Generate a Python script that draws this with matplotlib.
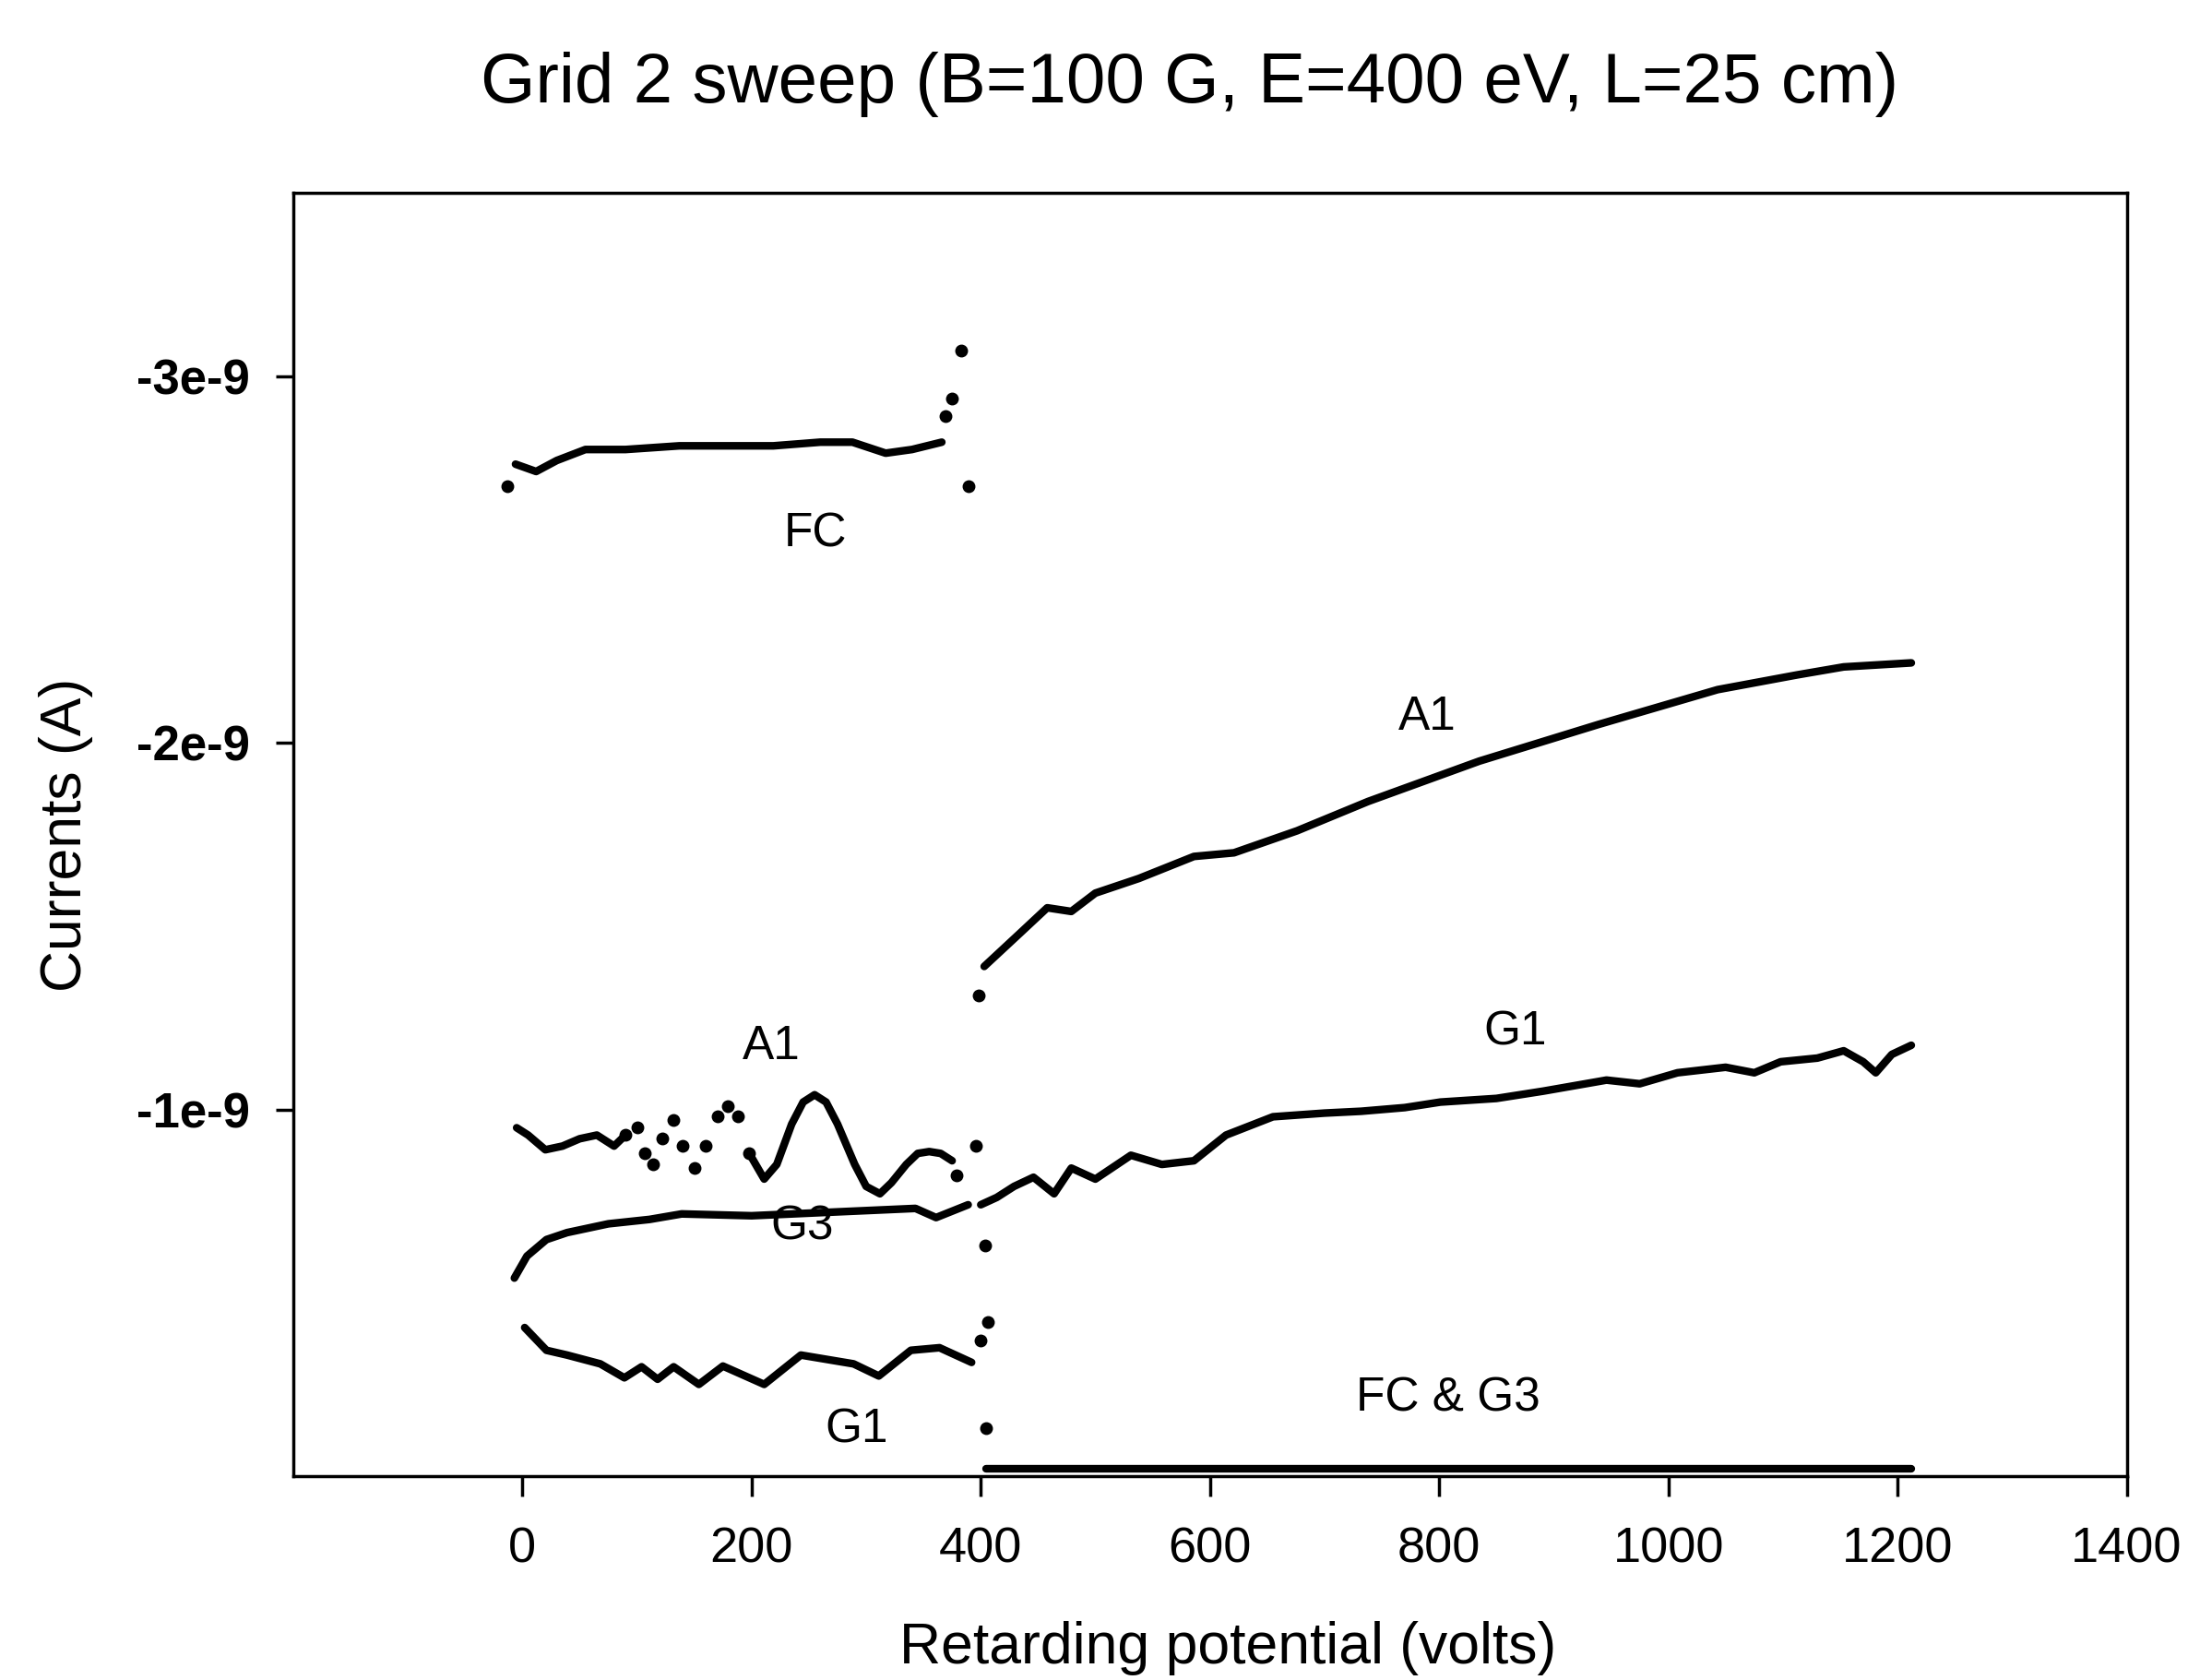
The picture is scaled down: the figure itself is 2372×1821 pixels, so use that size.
import numpy as np
from matplotlib import pyplot as plt

plt.rcParams['font.family'] = ['Liberation Sans', 'DejaVu Sans']

# values: volts, and currents in nA (multiplied by 1e-9 below)
fc_v = [-6, 12, 30, 55, 90, 137, 180, 219, 260, 288, 317, 340, 366]
fc_i = [-2.76, -2.74, -2.77, -2.80, -2.80, -2.81, -2.81, -2.81, -2.82, -2.82, -2.79, -2.80, -2.82]
fc_dots_v = [-13, 369, 375, 383, 389]
fc_dots_i = [-2.70, -2.89, -2.94, -3.07, -2.70]

a1_low_v = [-5, 5, 20, 35, 50, 65, 80, 90, 100, 107, 114, 122, 132, 140, 150, 160, 170, 179, 188,
            198, 211, 222, 235, 245, 255, 265, 275, 290, 300, 312, 322, 335, 345, 355, 365, 375]
a1_low_i = [-0.95, -0.93, -0.89, -0.90, -0.92, -0.93, -0.90, -0.93, -0.95, -0.88, -0.85, -0.92,
            -0.97, -0.90, -0.84, -0.90, -0.98, -1.01, -0.98, -0.88, -0.81, -0.85, -0.96, -1.02,
            -1.04, -1.02, -0.96, -0.85, -0.79, -0.77, -0.80, -0.85, -0.88, -0.885, -0.88, -0.86]
a1_high_v = [403, 434, 458, 479, 500, 538, 586, 621, 676, 738, 835, 939, 1043, 1112, 1153, 1212]
a1_high_i = [-1.39, -1.48, -1.55, -1.54, -1.59, -1.63, -1.69, -1.70, -1.76, -1.84, -1.95, -2.05,
             -2.145, -2.185, -2.207, -2.218]
a1_dots_v = [379, 396, 398]
a1_dots_i = [-0.82, -0.90, -1.31]

g3_v = [-7, 4, 21, 39, 75, 111, 139, 200, 271, 343, 361, 389]
g3_i = [-0.54, -0.60, -0.645, -0.664, -0.688, -0.70, -0.715, -0.71, -0.72, -0.73, -0.705, -0.74]
g3_dots_v = [404, 406]
g3_dots_i = [-0.63, -0.42]

g1_low_v = [2, 21, 39, 68, 89, 104, 118, 132, 154, 175, 211, 243, 289, 311, 339, 364, 392]
g1_low_i = [-0.405, -0.343, -0.33, -0.306, -0.268, -0.298, -0.264, -0.298, -0.25, -0.30, -0.25,
            -0.33, -0.306, -0.273, -0.343, -0.35, -0.31]
g1_high_v = [400, 414, 429, 446, 464, 479, 500, 531, 558, 586, 614, 655, 700, 732, 770, 801, 850,
             891, 946, 975, 1008, 1050, 1075, 1098, 1130, 1153, 1170, 1181, 1195, 1212]
g1_high_i = [-0.74, -0.76, -0.79, -0.815, -0.77, -0.84, -0.81, -0.875, -0.85, -0.86, -0.93, -0.98,
             -0.99, -0.995, -1.005, -1.02, -1.03, -1.05, -1.08, -1.07, -1.10, -1.115, -1.10, -1.13,
             -1.14, -1.16, -1.13, -1.10, -1.15, -1.175]
g1_dots_v = [400, 405]
g1_dots_i = [-0.37, -0.13]

zero_v = [405, 600, 800, 1000, 1212]
zero_i = [-0.02, -0.02, -0.02, -0.02, -0.02]

x_ticks = [0, 200, 400, 600, 800, 1000, 1200, 1400]
y_ticks = [-3e-9, -2e-9, -1e-9]
y_tick_labels = ['-3e-9', '-2e-9', '-1e-9']

labels = ['FC', 'A1', 'A1', 'G1', 'G3', 'G1', 'FC & G3']
label_v = [256, 790, 217, 866, 244, 292, 808]
label_i = [-2.57, -2.07, -1.17, -1.21, -0.68, -0.126, -0.21]

fig = plt.figure(figsize=(23.72, 18.21), dpi=100)
ax = fig.add_axes([0.134, 0.1214, 0.838, 0.7638])

lw = 6
k = dict(color='black', lw=lw, solid_capstyle='round', solid_joinstyle='round')
dot = dict(color='black', ms=9, ls='none', marker='o')

# A1 below 400 V: the fast wiggles in the middle come out as loose dots in the scan
a1v = np.array(a1_low_v)
a1i = np.array(a1_low_i) * 1e-9
mid = (a1v > 88) & (a1v < 205)
ax.plot(a1v[a1v <= 90], a1i[a1v <= 90], **k)
ax.plot(a1v[mid], a1i[mid], **dot)
ax.plot(a1v[a1v >= 198], a1i[a1v >= 198], **k)

for v, i in [(fc_v, fc_i), (a1_high_v, a1_high_i), (g3_v, g3_i),
             (g1_low_v, g1_low_i), (g1_high_v, g1_high_i), (zero_v, zero_i)]:
    ax.plot(v, np.array(i) * 1e-9, **k)

for v, i in [(fc_dots_v, fc_dots_i), (a1_dots_v, a1_dots_i), (g3_dots_v, g3_dots_i),
             (g1_dots_v, g1_dots_i)]:
    ax.plot(v, np.array(i) * 1e-9, **dot)

for t, v, i in zip(labels, label_v, label_i):
    ax.text(v, i * 1e-9, t, fontsize=37, ha='center', va='center')

ax.set_xlim(-200, 1400)
ax.set_ylim(0, -3.5e-9)
ax.set_xticks(x_ticks)
ax.set_xticklabels([str(x) for x in x_ticks], fontsize=39)
ax.set_yticks(y_ticks)
ax.set_yticklabels(y_tick_labels, fontsize=38, fontweight='bold')
ax.tick_params(axis='x', direction='out', length=16, width=2.5, pad=23)
ax.tick_params(axis='y', direction='out', length=14, width=2.5, pad=20)
for s in ax.spines.values():
    s.set_linewidth(2.5)

fig.text(0.5436, 0.950, 'Grid 2 sweep (B=100 G, E=400 eV, L=25 cm)', fontsize=55,
         ha='center', va='center')
fig.text(0.561, 0.019, 'Retarding potential (volts)', fontsize=45, ha='center', va='center')
fig.text(0.030, 0.503, 'Currents (A)', fontsize=45, ha='center', va='center', rotation=90)

plt.savefig('out.png', dpi=100)
plt.close()
